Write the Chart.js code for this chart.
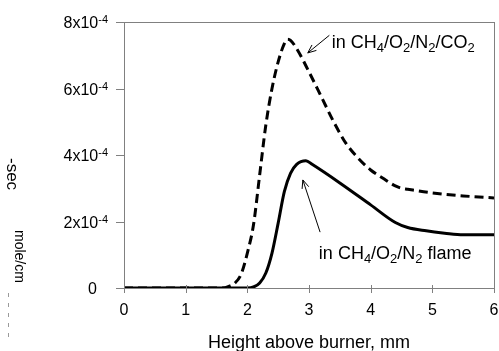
<!DOCTYPE html>
<html>
<head>
<meta charset="utf-8">
<script src="https://cdn.jsdelivr.net/npm/chart.js@4/dist/chart.umd.min.js"></script>
<style>
    html, body { margin: 0; padding: 0; background: #ffffff; }
    #wrap { width: 499px; height: 351px; }
</style>
</head>
<body>
<div id="wrap"><canvas id="chart" width="499" height="351"></canvas></div>
<script>
// flame with CO2 (dashed)
const heightCO2 = [0, 1, 1.5, 1.6, 1.7, 1.8, 1.9, 2.0, 2.1, 2.2, 2.3, 2.4, 2.5, 2.6, 2.65, 2.7, 2.8, 3.0, 3.2, 3.4, 3.6, 3.8, 4.0, 4.2, 4.4, 4.5, 4.6, 5.0, 5.5, 6.0];
const rateCO2 = [0, 0, 0, 0, 0.05e-4, 0.15e-4, 0.42e-4, 1.05e-4, 1.9e-4, 3.4e-4, 4.9e-4, 6.0e-4, 6.8e-4, 7.35e-4, 7.48e-4, 7.45e-4, 7.2e-4, 6.5e-4, 5.75e-4, 5.0e-4, 4.35e-4, 3.9e-4, 3.55e-4, 3.3e-4, 3.07e-4, 3.0e-4, 2.97e-4, 2.86e-4, 2.77e-4, 2.71e-4];

// flame without CO2 (solid)
const heightN2 = [0, 1, 2.0, 2.1, 2.2, 2.3, 2.4, 2.5, 2.6, 2.7, 2.8, 2.95, 3.05, 3.5, 4.0, 4.4, 4.6, 4.9, 5.2, 5.5, 6.0];
const rateN2 = [0, 0, 0, 0.03e-4, 0.15e-4, 0.45e-4, 1.05e-4, 1.95e-4, 2.9e-4, 3.45e-4, 3.72e-4, 3.83e-4, 3.72e-4, 3.16e-4, 2.5e-4, 1.97e-4, 1.82e-4, 1.72e-4, 1.65e-4, 1.6e-4, 1.6e-4];

const xTicks = [0, 1, 2, 3, 4, 5, 6];
const xTickLabels = ['0', '1', '2', '3', '4', '5', '6'];
const yTicks = [0, 2e-4, 4e-4, 6e-4, 8e-4];
const yTickBase = ['0', '2x10', '4x10', '6x10', '8x10'];
const yTickExp = ['', '-4', '-4', '-4', '-4'];

const FONT = '"Liberation Sans", Arial, sans-serif';
const AXIS_GREY = '#808080';

function toPoints(xs, ys) {
    return xs.map((x, i) => ({x: x, y: ys[i]}));
}

// text made of [string, isSubscript] parts
function drawRich(ctx, parts, x, y) {
    let cx = x;
    parts.forEach(p => {
        ctx.font = (p[1] ? '13px ' : '18px ') + FONT;
        ctx.fillText(p[0], cx, p[1] ? y + 4 : y);
        cx += ctx.measureText(p[0]).width;
    });
}

function drawArrow(ctx, x1, y1, x2, y2) {
    ctx.beginPath();
    ctx.moveTo(x1, y1);
    ctx.lineTo(x2, y2);
    let a = Math.atan2(y2 - y1, x2 - x1);
    let len = 9, spread = 0.4;
    ctx.moveTo(x2 - len * Math.cos(a - spread), y2 - len * Math.sin(a - spread));
    ctx.lineTo(x2, y2);
    ctx.lineTo(x2 - len * Math.cos(a + spread), y2 - len * Math.sin(a + spread));
    ctx.stroke();
}

const decorPlugin = {
    id: 'decor',
    afterDraw(chart) {
        const ctx = chart.ctx;
        const area = chart.chartArea;
        const xs = chart.scales.x;
        const ys = chart.scales.y;
        ctx.save();

        // frame
        ctx.strokeStyle = AXIS_GREY;
        ctx.lineWidth = 1;
        ctx.strokeRect(area.left + 0.5, area.top + 0.5, area.right - area.left, area.bottom - area.top);

        // tick marks
        ctx.beginPath();
        yTicks.forEach(v => {
            let py = Math.round(ys.getPixelForValue(v)) + 0.5;
            ctx.moveTo(area.left - 8, py);
            ctx.lineTo(area.left, py);
        });
        xTicks.forEach(v => {
            let px = Math.round(xs.getPixelForValue(v)) + 0.5;
            ctx.moveTo(px, area.bottom - 3);
            ctx.lineTo(px, area.bottom + 5);
        });
        ctx.stroke();

        ctx.fillStyle = '#000000';
        ctx.textBaseline = 'alphabetic';

        // y tick labels with exponent
        yTicks.forEach((v, i) => {
            let py = ys.getPixelForValue(v);
            ctx.font = '11px ' + FONT;
            let expW = ctx.measureText(yTickExp[i]).width;
            let right = yTickExp[i] ? area.left - 16 : area.left - 27;
            ctx.textAlign = 'right';
            ctx.fillText(yTickExp[i], right, py + 1);
            ctx.font = '16px ' + FONT;
            ctx.fillText(yTickBase[i], right - expW, py + 6);
        });

        // x tick labels
        ctx.font = '16px ' + FONT;
        ctx.textAlign = 'center';
        xTicks.forEach((v, i) => {
            ctx.fillText(xTickLabels[i], xs.getPixelForValue(v), area.bottom + 27);
        });

        // x title
        ctx.font = '18px ' + FONT;
        ctx.fillText('Height above burner, mm', (area.left + area.right) / 2, 348);

        // y title (broken in the original, two pieces)
        ctx.textAlign = 'left';
        ctx.textBaseline = 'middle';
        ctx.font = '17px ' + FONT;
        ctx.save();
        ctx.translate(12, 158);
        ctx.rotate(Math.PI / 2);
        ctx.fillText('-sec', 0, 0);
        ctx.restore();
        ctx.font = '14px ' + FONT;
        ctx.save();
        ctx.translate(19, 230);
        ctx.rotate(Math.PI / 2);
        ctx.fillText('mole/cm', 0, 0);
        ctx.restore();
        ctx.strokeStyle = '#9a9a9a';
        ctx.setLineDash([4, 6]);
        ctx.beginPath();
        ctx.moveTo(8.5, 293);
        ctx.lineTo(8.5, 338);
        ctx.stroke();
        ctx.setLineDash([]);

        // annotations
        ctx.textBaseline = 'alphabetic';
        ctx.textAlign = 'left';
        ctx.strokeStyle = '#000000';
        ctx.lineWidth = 1;
        drawArrow(ctx, xs.getPixelForValue(3.33), ys.getPixelForValue(7.6e-4),
                       xs.getPixelForValue(2.98), ys.getPixelForValue(7.07e-4));
        drawRich(ctx, [['in CH', 0], ['4', 1], ['/O', 0], ['2', 1], ['/N', 0], ['2', 1], ['/CO', 0], ['2', 1]],
                 xs.getPixelForValue(3.37), ys.getPixelForValue(7.22e-4));
        drawArrow(ctx, xs.getPixelForValue(3.18), ys.getPixelForValue(1.68e-4),
                       xs.getPixelForValue(2.9), ys.getPixelForValue(3.25e-4));
        drawRich(ctx, [['in CH', 0], ['4', 1], ['/O', 0], ['2', 1], ['/N', 0], ['2', 1], [' flame', 0]],
                 xs.getPixelForValue(3.16), ys.getPixelForValue(0.87e-4));

        ctx.restore();
    }
};

new Chart(document.getElementById('chart').getContext('2d'), {
    type: 'line',
    data: {
        datasets: [
            {
                label: 'in CH4/O2/N2/CO2',
                data: toPoints(heightCO2, rateCO2),
                borderColor: '#000000',
                borderWidth: 3,
                borderDash: [9, 5],
                pointRadius: 0,
                fill: false,
                cubicInterpolationMode: 'monotone'
            },
            {
                label: 'in CH4/O2/N2 flame',
                data: toPoints(heightN2, rateN2),
                borderColor: '#000000',
                borderWidth: 3,
                pointRadius: 0,
                fill: false,
                cubicInterpolationMode: 'monotone'
            }
        ]
    },
    options: {
        responsive: false,
        animation: false,
        layout: {
            padding: {left: 0, right: 5, top: 22, bottom: 0}
        },
        scales: {
            x: {
                type: 'linear',
                min: 0,
                max: 6,
                grid: {display: false},
                border: {display: false},
                ticks: {display: false},
                afterFit: function(scale) { scale.height = 63; }
            },
            y: {
                min: 0,
                max: 8e-4,
                grid: {display: false},
                border: {display: false},
                ticks: {display: false},
                afterFit: function(scale) { scale.width = 124; }
            }
        },
        plugins: {
            legend: {display: false},
            tooltip: {enabled: false}
        }
    },
    plugins: [decorPlugin]
});
</script>
</body>
</html>
